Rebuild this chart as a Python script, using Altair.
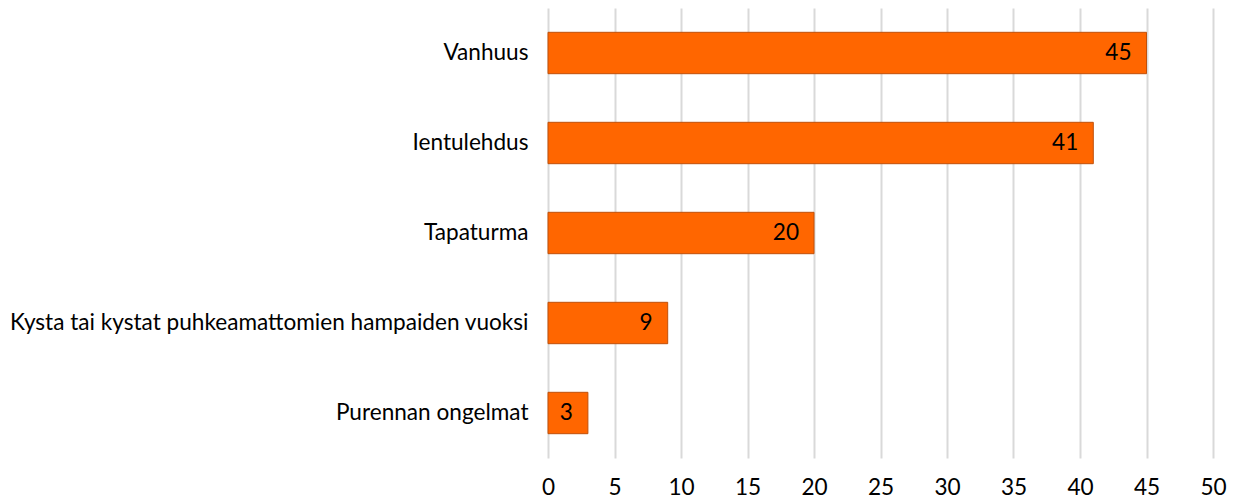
import altair as alt
import pandas as pd

categories = ["Vanhuus", "Ientulehdus", "Tapaturma",
              "Kysta tai kystat puhkeamattomien hampaiden vuoksi",
              "Purennan ongelmat"]
values = [45, 41, 20, 9, 3]
x_ticks = [0, 5, 10, 15, 20, 25, 30, 35, 40, 45, 50]

df = pd.DataFrame({"cat": categories, "val": values})

FONT = "Lato"
FS = 22.6

y = alt.Y("cat:N", sort=categories, title=None,
          scale=alt.Scale(paddingInner=0.54, paddingOuter=0.27),
          axis=alt.Axis(labelFontSize=FS, labelFont=FONT, labelColor="#000000",
                        ticks=False, domain=False, labelPadding=20, labelLimit=600))
x = alt.X("val:Q", title=None,
          scale=alt.Scale(domain=[0, 50], nice=False),
          axis=alt.Axis(values=x_ticks, grid=True, gridColor="#D9D9D9", gridWidth=2,
                        ticks=False, domain=False, labelFontSize=FS, labelFont=FONT,
                        labelColor="#000000", labelPadding=18, labelFlush=False))

bars = alt.Chart(df).mark_bar(color="#FF6600", stroke="#C0500A", strokeWidth=1).encode(
    x=x, y=y)
labels = alt.Chart(df).mark_text(align="right", dx=-15, fontSize=FS, font=FONT,
                                 color="#000000").encode(
    x="val:Q", y=alt.Y("cat:N", sort=categories), text="val:Q")

chart = (bars + labels).properties(
    width=665, height=450,
    autosize=alt.AutoSizeParams(type="none"),
    padding={"left": 540, "top": 0, "right": 14, "bottom": 43},
).configure_view(stroke=None)

chart.save("out.html", embed_options={"renderer": "svg", "actions": False})
